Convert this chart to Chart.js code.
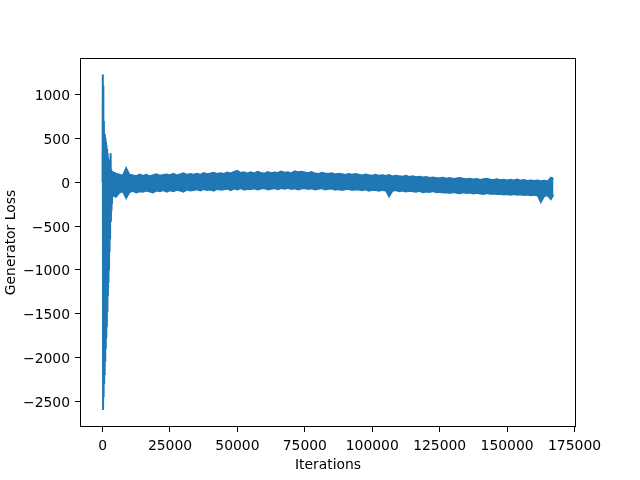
<!DOCTYPE html>
<html>
<head>
<meta charset="utf-8">
<script src="https://cdn.jsdelivr.net/npm/chart.js@4.4.1/dist/chart.umd.min.js"></script>
<style>
  html, body { margin: 0; padding: 0; background: #fff; }
  canvas { display: block; }
</style>
</head>
<body>
<canvas id="chart" width="640" height="480"></canvas>
<script>
"use strict";

// Generator loss over training. The first few thousand iterations swing wildly,
// after that the loss sits in a narrow noisy band, drawn here as its upper/lower envelope.

const BLUE = "#1f77b4";

// early spike, drawn as a plain line
const earlyIters = [0, 100, 200, 300, 400, 500, 600, 700, 800, 900, 1000, 1100, 1200, 1300,
  1400, 1500, 1600, 1700, 1800, 1900, 2000, 2100, 2200, 2300, 2400, 2500, 2600, 2700,
  2800, 2900, 3000, 3100, 3200, 3300, 3400, 3500, 3600];
const earlyLoss = [0, 1230, -2600, 1100, -2450, 700, -2300, 560, -2200, 540, -2050, 500, -1900, 460,
  -1780, 420, -1650, 380, -1480, 330, -1300, 280, -1150, 250, -1000, 220, -800, 200,
  -650, 180, 330, -450, 150, -330, 130, -250, 110];

// noisy band after the spike
const bandIters = [3500,
  5000, 6250, 7500, 8750, 10000, 11250, 12500, 13750,
  15000, 16250, 17500, 18750, 20000, 21250, 22500, 23750,
  25000, 26250, 27500, 28750, 30000, 31250, 32500, 33750,
  35000, 36250, 37500, 38750, 40000, 41250, 42500, 43750,
  45000, 46250, 47500, 48750, 50000, 51250, 52500, 53750,
  55000, 56250, 57500, 58750, 60000, 61250, 62500, 63750,
  65000, 66250, 67500, 68750, 70000, 71250, 72500, 73750,
  75000, 76250, 77500, 78750, 80000, 81250, 82500, 83750,
  85000, 86250, 87500, 88750, 90000, 91250, 92500, 93750,
  95000, 96250, 97500, 98750, 100000, 101250, 102500, 103750,
  105000, 106250, 107500, 108750, 110000, 111250, 112500, 113750,
  115000, 116250, 117500, 118750, 120000, 121250, 122500, 123750,
  125000, 126250, 127500, 128750, 130000, 131250, 132500, 133750,
  135000, 136250, 137500, 138750, 140000, 141250, 142500, 143750,
  145000, 146250, 147500, 148750, 150000, 151250, 152500, 153750,
  155000, 156250, 157500, 158750, 160000, 161250, 162500, 163750,
  165000, 166250, 167200];
const bandHigh = [120,
  100, 90, 78, 165, 88, 80, 72, 90,
  76, 88, 70, 84, 95, 78, 86, 92,
  84, 98, 80, 92, 104, 86, 96, 90,
  100, 88, 108, 94, 102, 112, 96, 106,
  98, 114, 104, 120, 132, 108, 118, 102,
  116, 104, 122, 110, 100, 118, 106, 114,
  108, 124, 112, 118, 104, 128, 116, 122,
  114, 106, 120, 102, 96, 112, 104, 98,
  104, 92, 100, 94, 86, 98, 90, 96,
  88, 80, 92, 84, 78, 88, 76, 82,
  74, 84, 70, 78, 72, 66, 76, 64,
  70, 60, 66, 56, 62, 52, 58, 50,
  48, 54, 44, 50, 40, 46, 52, 42,
  38, 44, 34, 40, 30, 36, 42, 32,
  28, 36, 26, 32, 22, 30, 24, 34,
  20, 28, 18, 24, 16, 22, 14, 20,
  12, 55, 40];
const bandLow = [-150,
  -170, -120, -105, -185, -115, -100, -118, -105,
  -112, -98, -108, -120, -96, -104, -92, -110,
  -94, -104, -88, -98, -110, -86, -96, -90,
  -84, -96, -80, -92, -86, -100, -78, -88,
  -82, -76, -92, -74, -84, -70, -88, -76,
  -80, -72, -86, -74, -68, -84, -76, -70,
  -82, -70, -78, -66, -80, -72, -84, -74,
  -68, -80, -72, -84, -76, -70, -86, -78,
  -74, -88, -80, -92, -84, -78, -90, -82,
  -86, -94, -82, -98, -88, -92, -100, -90,
  -96, -165, -100, -92, -104, -96, -108, -100,
  -106, -112, -100, -116, -108, -114, -104, -118,
  -112, -120, -116, -124, -114, -122, -128, -118,
  -126, -120, -132, -124, -130, -136, -126, -134,
  -130, -138, -134, -142, -136, -144, -138, -146,
  -140, -148, -144, -152, -146, -150, -230, -160,
  -150, -195, -145];

const xTicks = [0, 25000, 50000, 75000, 100000, 125000, 150000, 175000];
const yTicks = [-2500, -2000, -1500, -1000, -500, 0, 500, 1000];

const FONT = { family: "'DejaVu Sans', sans-serif", size: 13.9 };

function pts(xs, ys) {
  return xs.map((x, i) => ({ x: x, y: ys[i] }));
}

function fmt(v) {
  return v < 0 ? "\u2212" + Math.abs(v) : String(v);
}

const frame = {
  id: "frame",
  afterDraw(chart) {
    const a = chart.chartArea;
    const ctx = chart.ctx;
    ctx.save();
    ctx.strokeStyle = "#000";
    ctx.lineWidth = 1;
    ctx.strokeRect(Math.round(a.left) + 0.5, Math.round(a.top) + 0.5,
      Math.round(a.right - a.left) - 1, Math.round(a.bottom - a.top) - 1);
    ctx.restore();
  },
};

new Chart(document.getElementById("chart"), {
  type: "line",
  data: {
    datasets: [
      // tiny tension keeps Chart.js off its per-pixel fast path, so the dense zigzag stays solid
      { data: pts(earlyIters, earlyLoss), borderColor: BLUE, borderWidth: 2, pointRadius: 0,
        fill: false, tension: 0.0001 },
      { data: pts(bandIters, bandHigh), borderColor: BLUE, borderWidth: 1.5, pointRadius: 0, fill: false },
      { data: pts(bandIters, bandLow), borderColor: BLUE, borderWidth: 1.5, pointRadius: 0,
        fill: "-1", backgroundColor: BLUE },
    ],
  },
  options: {
    responsive: false,
    animation: false,
    devicePixelRatio: 1,
    layout: { padding: { left: 0, right: 64, top: 58, bottom: 0 } },
    plugins: { legend: { display: false }, tooltip: { enabled: false } },
    scales: {
      x: {
        type: "linear",
        min: -8359,
        max: 175540,
        afterBuildTicks(s) { s.ticks = xTicks.map((v) => ({ value: v })); },
        afterFit(s) { s.height = 53; },
        grid: { drawOnChartArea: false, drawTicks: true, tickLength: 5, color: "#000" },
        border: { display: false },
        ticks: { color: "#000", font: FONT, padding: 6, maxRotation: 0, autoSkip: false, callback: fmt },
        title: { display: true, text: "Iterations", color: "#000", font: FONT, padding: { top: 2, bottom: 6 } },
      },
      y: {
        min: -2793,
        max: 1418,
        afterBuildTicks(s) { s.ticks = yTicks.map((v) => ({ value: v })); },
        afterFit(s) { s.width = 80; },
        grid: { drawOnChartArea: false, drawTicks: true, tickLength: 5, color: "#000" },
        border: { display: false },
        ticks: { color: "#000", font: FONT, padding: 5, labelOffset: 2, autoSkip: false, callback: fmt },
        title: { display: true, text: "Generator Loss", color: "#000", font: FONT, padding: { top: 3, bottom: 0 } },
      },
    },
  },
  plugins: [frame],
});
</script>
</body>
</html>
